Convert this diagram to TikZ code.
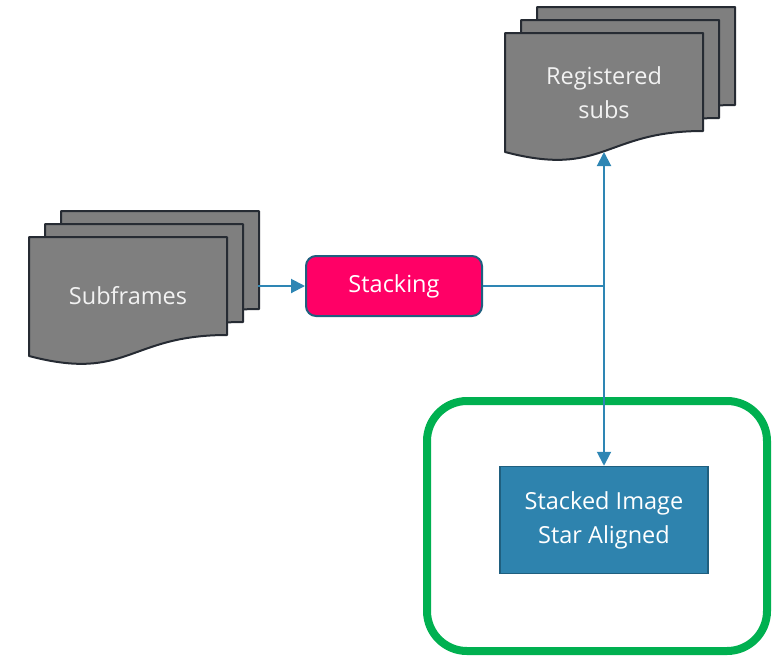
\documentclass[tikz,border=0pt]{standalone}
\usepackage{fontspec}
\setmainfont{Open Sans}
\usepackage{xcolor}
\usepackage{tikz}
\usetikzlibrary{arrows.meta, positioning}
\definecolor{docgray}{HTML}{7F7F7F}
\definecolor{docline}{HTML}{262B33}
\definecolor{doctextgray}{HTML}{F2F2F2}
\definecolor{stackpink}{HTML}{FF0066}
\definecolor{flowblue}{HTML}{2E86B4}
\definecolor{boxblue}{HTML}{2E83AE}
\definecolor{edgeblue}{HTML}{1F5F7F}
\definecolor{keepgreen}{HTML}{00B050}
\tikzstyle{docpage} = [fill=docgray, draw=docline, line width=2pt, line join=round]
\tikzstyle{doctext} = [text=doctextgray, align=center, font=\fontsize{23.5}{34}\selectfont]
\tikzstyle{procbox} = [rectangle, rounded corners=10pt, minimum width=176pt, minimum height=60pt,
  text centered, draw=edgeblue, fill=stackpink, font=\fontsize{23.5}{34}\selectfont, text=white, line width=2pt]
\tikzstyle{outbox} = [rectangle, minimum width=208pt, minimum height=107pt, align=center,
  draw=edgeblue, fill=boxblue, font=\fontsize{23.5}{34}\selectfont, text=white, line width=1.5pt]
\tikzstyle{keepframe} = [rectangle, rounded corners=40pt, minimum width=340pt, minimum height=250pt,
  draw=keepgreen, line width=8pt]
\tikzstyle{arrow} = [flowblue, line width=2pt, -{Triangle[length=14pt, width=14pt]}]
\tikzstyle{link} = [flowblue, line width=2pt]

% one document page, top-left corner at (#1,#2), wavy lower edge
\newcommand{\onepage}[2]{%
  \draw[docpage] (#1,#2) -- (#1+198,#2) -- (#1+198,#2+98)
    .. controls (#1+99,#2+98) and (#1+99,#2+145) .. (#1,#2+119) -- cycle;}
% three pages, front one at (#1,#2)
\newcommand{\docstack}[2]{%
  \onepage{#1+32}{#2-26}
  \onepage{#1+16}{#2-13}
  \onepage{#1}{#2}}

\begin{document}
\begin{tikzpicture}[x=1pt, y=-1pt]
  \useasboundingbox (0,0) rectangle (773,657);

  \docstack{29}{237}
  \docstack{505}{33}
  \node (subfr) [doctext] at (128,296) {Subframes};
  \node (regsub) [doctext] at (604,93) {Registered\\subs};

  \node (stack)  [procbox]   at (394,286) {Stacking};
  \node (keep)   [keepframe] at (597,526) {};
  \node (result) [outbox]    at (604,520) {Stacked Image\\Star Aligned};

  \coordinate (subsend) at (258,286);
  \coordinate (split)   at (604,286);
  \coordinate (regtip)  at (604,152);

  \draw[arrow] (subsend)--(stack.west);
  \draw[link] (stack.east)--(split);
  \draw[arrow] (split)--(regtip);
  \draw[arrow] (split)--(result.north);
\end{tikzpicture}
\end{document}
